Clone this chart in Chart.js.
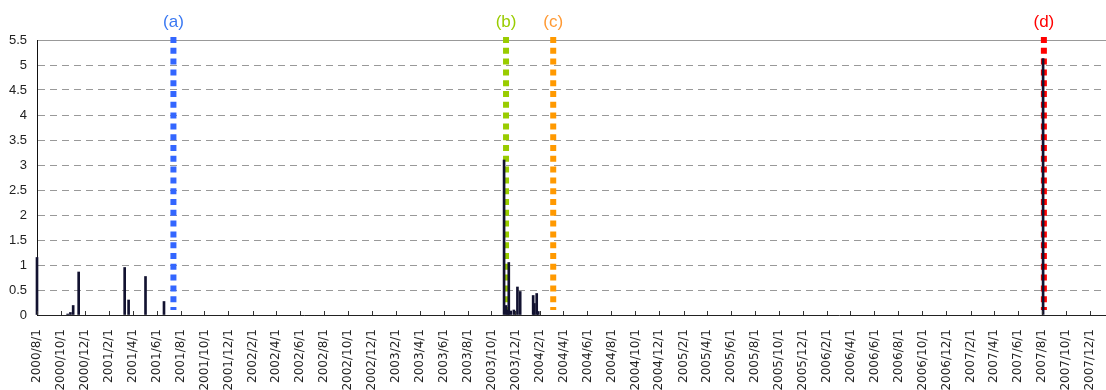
<!DOCTYPE html>
<html>
<head>
<meta charset="utf-8">
<script src="https://cdn.jsdelivr.net/npm/chart.js@4"></script>
<style>
  body { margin: 0; background: #fff; }
  #wrap { width: 1106px; height: 390px; position: relative; }
</style>
</head>
<body>
<div id="wrap"><canvas id="chart"></canvas></div>
<script>
// data
const rainDates = ['2000/8/1', '2000/10/18', '2000/10/25', '2000/11/1', '2000/11/15',
    '2001/3/12', '2001/3/22', '2001/5/4', '2001/6/20',
    '2003/11/2', '2003/11/7', '2003/11/11', '2003/11/14', '2003/11/19', '2003/11/27',
    '2003/12/6', '2003/12/13', '2004/1/15', '2004/1/18', '2004/1/24', '2004/1/28',
    '2007/8/4'];
const rainValues = [1.15, 0.02, 0.05, 0.19, 0.86,
    0.95, 0.3, 0.77, 0.27,
    3.1, 0.19, 0.1, 1.05, 0.08, 0.1,
    0.56, 0.47, 0.39, 0.23, 0.43, 0.07,
    5.13];

const eventLabels = ['(a)', '(b)', '(c)', '(d)'];
const eventDates = ['2001/7/14', '2003/11/7', '2004/3/6', '2007/8/6'];
const eventColors = ['#3366ff', '#99cc00', '#ff9900', '#ff0000'];
const eventTextColors = ['#3a78f2', '#99cc00', '#ff9933', '#ff0000'];

const tickLabels = ['2000/8/1', '2000/10/1', '2000/12/1', '2001/2/1', '2001/4/1', '2001/6/1',
    '2001/8/1', '2001/10/1', '2001/12/1', '2002/2/1', '2002/4/1', '2002/6/1',
    '2002/8/1', '2002/10/1', '2002/12/1', '2003/2/1', '2003/4/1', '2003/6/1',
    '2003/8/1', '2003/10/1', '2003/12/1', '2004/2/1', '2004/4/1', '2004/6/1',
    '2004/8/1', '2004/10/1', '2004/12/1', '2005/2/1', '2005/4/1', '2005/6/1',
    '2005/8/1', '2005/10/1', '2005/12/1', '2006/2/1', '2006/4/1', '2006/6/1',
    '2006/8/1', '2006/10/1', '2006/12/1', '2007/2/1', '2007/4/1', '2007/6/1',
    '2007/8/1', '2007/10/1', '2007/12/1'];

// days since 2000/8/1
function dayOf(s) {
    const [y, m, d] = s.split('/').map(Number);
    return (Date.UTC(y, m - 1, d) - Date.UTC(2000, 7, 1)) / 86400000;
}

const datasets = [{
    type: 'bar',
    data: rainDates.map((d, i) => ({ x: dayOf(d), y: rainValues[i] })),
    backgroundColor: '#121230',
    barThickness: 2,
    clip: false,
    order: 0
}];
eventDates.forEach((d, i) => {
    datasets.push({
        type: 'line',
        data: [{ x: dayOf(d), y: 5.56 }, { x: dayOf(d), y: 0.1 }],
        borderColor: eventColors[i],
        borderWidth: 6,
        borderDash: [6, 4.8],
        pointRadius: 0,
        fill: false,
        clip: false,
        order: 1
    });
});

// inside tick marks on the x axis + event labels on top
const extras = {
    id: 'extras',
    afterDatasetsDraw(chart) {
        const ctx = chart.ctx;
        const xs = chart.scales.x;
        const bottom = chart.chartArea.bottom;
        ctx.save();
        ctx.strokeStyle = '#333';
        ctx.lineWidth = 1;
        xs.ticks.forEach(t => {
            const x = Math.round(xs.getPixelForValue(t.value)) + 0.5;
            ctx.beginPath();
            ctx.moveTo(x, bottom);
            ctx.lineTo(x, bottom - 4);
            ctx.stroke();
        });
        ctx.font = '17px "Liberation Sans", Arial, sans-serif';
        ctx.textAlign = 'center';
        ctx.textBaseline = 'middle';
        eventLabels.forEach((lab, i) => {
            ctx.fillStyle = eventTextColors[i];
            ctx.fillText(lab, xs.getPixelForValue(dayOf(eventDates[i])), 22);
        });
        ctx.restore();
    }
};

new Chart(document.getElementById('chart'), {
    type: 'bar',
    data: { datasets: datasets },
    options: {
        responsive: true,
        maintainAspectRatio: false,
        animation: false,
        layout: { padding: { top: 40, right: 0, left: 0, bottom: 0 } },
        plugins: { legend: { display: false }, tooltip: { enabled: false } },
        scales: {
            x: {
                type: 'linear',
                min: 0,
                max: 2719,
                offset: false,
                afterBuildTicks: scale => {
                    scale.ticks = tickLabels.map(s => ({ value: dayOf(s) }));
                },
                afterFit: scale => {
                    scale.height = 75;
                    scale.paddingLeft = 0;
                    scale.paddingRight = 0;
                },
                grid: { display: false, drawTicks: false, offset: false },
                border: { display: true, color: '#222', width: 1 },
                ticks: {
                    autoSkip: false,
                    minRotation: 90,
                    maxRotation: 90,
                    padding: 14,
                    color: '#222',
                    font: { family: '"DejaVu Sans", sans-serif', size: 12 },
                    callback: (v, i) => tickLabels[i]
                }
            },
            y: {
                min: 0,
                max: 5.5,
                afterFit: scale => { scale.width = 37; },
                grid: { color: '#999', lineWidth: 1, drawTicks: false },
                border: {
                    display: true,
                    color: '#111',
                    width: 1,
                    dash: ctx => (ctx.tick && ctx.tick.value < 5.5) ? [7, 5] : []
                },
                ticks: {
                    stepSize: 0.5,
                    padding: 10,
                    color: '#222',
                    font: { family: '"Liberation Sans", Arial, sans-serif', size: 13 },
                    callback: v => String(v)
                }
            }
        }
    },
    plugins: [extras]
});
</script>
</body>
</html>
